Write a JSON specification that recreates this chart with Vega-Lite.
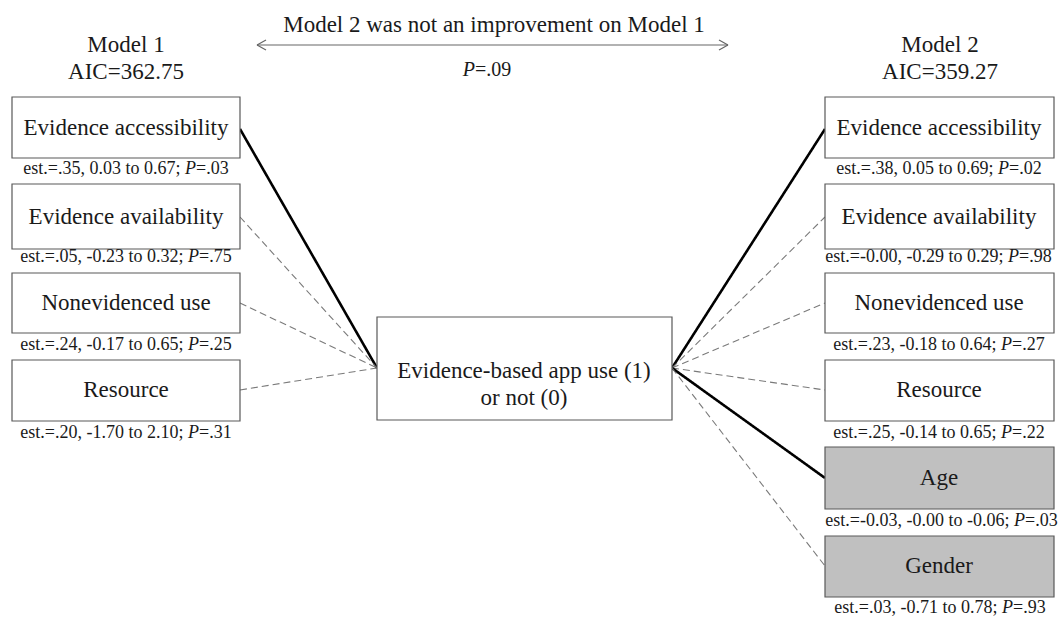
{
  "$schema": "https://vega.github.io/schema/vega-lite/v6.json",
  "width": 1061,
  "height": 619,
  "autosize": {"type": "fit", "contains": "padding"},
  "padding": 0,
  "background": "white",
  "config": {"view": {"stroke": null}, "font": "Liberation Serif", "text": {"font": "Liberation Serif"}},
  "datasets": {
    "edges": [
      {"model": "Model 1", "predictor": "Evidence accessibility", "sig": "sig", "x": 240, "y": 129, "x2": 377, "y2": 368},
      {"model": "Model 1", "predictor": "Evidence availability", "sig": "ns", "x": 240, "y": 217, "x2": 377, "y2": 368},
      {"model": "Model 1", "predictor": "Nonevidenced use", "sig": "ns", "x": 240, "y": 303, "x2": 377, "y2": 368},
      {"model": "Model 1", "predictor": "Resource", "sig": "ns", "x": 240, "y": 390, "x2": 377, "y2": 368},
      {"model": "Model 2", "predictor": "Evidence accessibility", "sig": "sig", "x": 672, "y": 368, "x2": 825, "y2": 129},
      {"model": "Model 2", "predictor": "Evidence availability", "sig": "ns", "x": 672, "y": 368, "x2": 825, "y2": 217},
      {"model": "Model 2", "predictor": "Nonevidenced use", "sig": "ns", "x": 672, "y": 368, "x2": 825, "y2": 303},
      {"model": "Model 2", "predictor": "Resource", "sig": "ns", "x": 672, "y": 368, "x2": 825, "y2": 390},
      {"model": "Model 2", "predictor": "Age", "sig": "sig", "x": 672, "y": 368, "x2": 825, "y2": 478},
      {"model": "Model 2", "predictor": "Gender", "sig": "ns", "x": 672, "y": 368, "x2": 825, "y2": 566}
    ],
    "arrow": [
      {"part": "shaft", "x": 257, "y": 45, "x2": 728, "y2": 45},
      {"part": "left head top", "x": 257, "y": 45, "x2": 266, "y2": 40},
      {"part": "left head bottom", "x": 257, "y": 45, "x2": 266, "y2": 50},
      {"part": "right head top", "x": 728, "y": 45, "x2": 719, "y2": 40},
      {"part": "right head bottom", "x": 728, "y": 45, "x2": 719, "y2": 50}
    ],
    "boxes": [
      {"label": "Evidence accessibility", "kind": "model", "x0": 12, "x1": 240, "y0": 97, "y1": 158, "cx": 126, "cy": 128},
      {"label": "Evidence availability", "kind": "model", "x0": 12, "x1": 240, "y0": 184, "y1": 249, "cx": 126, "cy": 217},
      {"label": "Nonevidenced use", "kind": "model", "x0": 12, "x1": 240, "y0": 273, "y1": 333, "cx": 126, "cy": 303},
      {"label": "Resource", "kind": "model", "x0": 12, "x1": 240, "y0": 360, "y1": 421, "cx": 126, "cy": 390},
      {"label": ["Evidence-based app use (1)", "or not (0)"], "kind": "outcome", "x0": 377, "x1": 672, "y0": 317, "y1": 420, "cx": 524, "cy": 371},
      {"label": "Evidence accessibility", "kind": "model", "x0": 825, "x1": 1054, "y0": 97, "y1": 158, "cx": 939, "cy": 128},
      {"label": "Evidence availability", "kind": "model", "x0": 825, "x1": 1054, "y0": 184, "y1": 249, "cx": 939, "cy": 217},
      {"label": "Nonevidenced use", "kind": "model", "x0": 825, "x1": 1054, "y0": 273, "y1": 333, "cx": 939, "cy": 303},
      {"label": "Resource", "kind": "model", "x0": 825, "x1": 1054, "y0": 360, "y1": 421, "cx": 939, "cy": 390},
      {"label": "Age", "kind": "added", "x0": 825, "x1": 1054, "y0": 447, "y1": 509, "cx": 939, "cy": 478},
      {"label": "Gender", "kind": "added", "x0": 825, "x1": 1054, "y0": 536, "y1": 597, "cx": 939, "cy": 566}
    ],
    "est": [
      {"pre": "est.=.35, 0.03 to 0.67;", "p": "=.03", "px": 185, "y": 169},
      {"pre": "est.=.05, -0.23 to 0.32;", "p": "=.75", "px": 188, "y": 257},
      {"pre": "est.=.24, -0.17 to 0.65;", "p": "=.25", "px": 188, "y": 345},
      {"pre": "est.=.20, -1.70 to 2.10;", "p": "=.31", "px": 188, "y": 433},
      {"pre": "est.=.38, 0.05 to 0.69;", "p": "=.02", "px": 998, "y": 169},
      {"pre": "est.=-0.00, -0.29 to 0.29;", "p": "=.98", "px": 1008, "y": 257},
      {"pre": "est.=.23, -0.18 to 0.64;", "p": "=.27", "px": 1001, "y": 345},
      {"pre": "est.=.25, -0.14 to 0.65;", "p": "=.22", "px": 1001, "y": 433},
      {"pre": "est.=-0.03, -0.00 to -0.06;", "p": "=.03", "px": 1014, "y": 521},
      {"pre": "est.=.03, -0.71 to 0.78;", "p": "=.93", "px": 1002, "y": 608}
    ],
    "headers": [
      {"text": "Model 2 was not an improvement on Model 1", "x": 494, "y": 25},
      {"text": "Model 1", "x": 126, "y": 45},
      {"text": "AIC=362.75", "x": 126, "y": 72},
      {"text": "Model 2", "x": 940, "y": 45},
      {"text": "AIC=359.27", "x": 940, "y": 72}
    ],
    "ptest": [
      {"p": "P", "rest": "=.09", "x": 475, "y": 70}
    ]
  },
  "layer": [
    {
      "data": {"name": "edges"},
      "mark": {"type": "rule"},
      "encoding": {
        "x": {"field": "x", "type": "quantitative", "scale": {"domain": [0, 1061], "nice": false, "zero": false}, "axis": null},
        "y": {"field": "y", "type": "quantitative", "scale": {"domain": [0, 619], "nice": false, "zero": false, "reverse": true}, "axis": null},
        "x2": {"field": "x2"},
        "y2": {"field": "y2"},
        "color": {"field": "sig", "type": "nominal", "scale": {"domain": ["sig", "ns"], "range": ["#000000", "#7a7a7a"]}, "legend": null},
        "size": {"field": "sig", "type": "nominal", "scale": {"domain": ["sig", "ns"], "range": [2.6, 1.1]}, "legend": null},
        "strokeDash": {"field": "sig", "type": "nominal", "scale": {"domain": ["sig", "ns"], "range": [[1, 0], [7, 4]]}, "legend": null}
      }
    },
    {
      "data": {"name": "arrow"},
      "mark": {"type": "rule", "color": "#666666", "strokeWidth": 1.2},
      "encoding": {
        "x": {"field": "x", "type": "quantitative", "scale": {"domain": [0, 1061]}, "axis": null},
        "y": {"field": "y", "type": "quantitative", "scale": {"domain": [0, 619], "reverse": true}, "axis": null},
        "x2": {"field": "x2"},
        "y2": {"field": "y2"}
      }
    },
    {
      "data": {"name": "boxes"},
      "mark": {"type": "rect", "stroke": "#595959", "strokeWidth": 1.2},
      "encoding": {
        "x": {"field": "x0", "type": "quantitative", "scale": {"domain": [0, 1061]}, "axis": null},
        "x2": {"field": "x1"},
        "y": {"field": "y0", "type": "quantitative", "scale": {"domain": [0, 619], "reverse": true}, "axis": null},
        "y2": {"field": "y1"},
        "fill": {"field": "kind", "type": "nominal", "scale": {"domain": ["model", "outcome", "added"], "range": ["#ffffff", "#ffffff", "#c0c0c0"]}, "legend": null}
      }
    },
    {
      "data": {"name": "boxes"},
      "mark": {"type": "text", "font": "Liberation Serif", "fontSize": 23, "align": "center", "baseline": "middle", "color": "#1a1a1a", "lineHeight": 27},
      "encoding": {
        "x": {"field": "cx", "type": "quantitative", "scale": {"domain": [0, 1061]}, "axis": null},
        "y": {"field": "cy", "type": "quantitative", "scale": {"domain": [0, 619], "reverse": true}, "axis": null},
        "text": {"field": "label"}
      }
    },
    {
      "data": {"name": "est"},
      "mark": {"type": "text", "font": "Liberation Serif", "fontSize": 18, "align": "right", "baseline": "middle", "dx": -4.5, "color": "#1a1a1a"},
      "encoding": {
        "x": {"field": "px", "type": "quantitative", "scale": {"domain": [0, 1061]}, "axis": null},
        "y": {"field": "y", "type": "quantitative", "scale": {"domain": [0, 619], "reverse": true}, "axis": null},
        "text": {"field": "pre"}
      }
    },
    {
      "data": {"name": "est"},
      "mark": {"type": "text", "font": "Liberation Serif", "fontSize": 18, "align": "left", "baseline": "middle", "fontStyle": "italic", "color": "#1a1a1a"},
      "encoding": {
        "x": {"field": "px", "type": "quantitative", "scale": {"domain": [0, 1061]}, "axis": null},
        "y": {"field": "y", "type": "quantitative", "scale": {"domain": [0, 619], "reverse": true}, "axis": null},
        "text": {"value": "P"}
      }
    },
    {
      "data": {"name": "est"},
      "mark": {"type": "text", "font": "Liberation Serif", "fontSize": 18, "align": "left", "baseline": "middle", "dx": 11, "color": "#1a1a1a"},
      "encoding": {
        "x": {"field": "px", "type": "quantitative", "scale": {"domain": [0, 1061]}, "axis": null},
        "y": {"field": "y", "type": "quantitative", "scale": {"domain": [0, 619], "reverse": true}, "axis": null},
        "text": {"field": "p"}
      }
    },
    {
      "data": {"name": "headers"},
      "mark": {"type": "text", "font": "Liberation Serif", "fontSize": 23, "align": "center", "baseline": "middle", "color": "#1a1a1a"},
      "encoding": {
        "x": {"field": "x", "type": "quantitative", "scale": {"domain": [0, 1061]}, "axis": null},
        "y": {"field": "y", "type": "quantitative", "scale": {"domain": [0, 619], "reverse": true}, "axis": null},
        "text": {"field": "text"}
      }
    },
    {
      "data": {"name": "ptest"},
      "mark": {"type": "text", "font": "Liberation Serif", "fontSize": 20, "align": "right", "baseline": "middle", "fontStyle": "italic", "color": "#1a1a1a"},
      "encoding": {
        "x": {"field": "x", "type": "quantitative", "scale": {"domain": [0, 1061]}, "axis": null},
        "y": {"field": "y", "type": "quantitative", "scale": {"domain": [0, 619], "reverse": true}, "axis": null},
        "text": {"field": "p"}
      }
    },
    {
      "data": {"name": "ptest"},
      "mark": {"type": "text", "font": "Liberation Serif", "fontSize": 20, "align": "left", "baseline": "middle", "color": "#1a1a1a"},
      "encoding": {
        "x": {"field": "x", "type": "quantitative", "scale": {"domain": [0, 1061]}, "axis": null},
        "y": {"field": "y", "type": "quantitative", "scale": {"domain": [0, 619], "reverse": true}, "axis": null},
        "text": {"field": "rest"}
      }
    }
  ]
}
